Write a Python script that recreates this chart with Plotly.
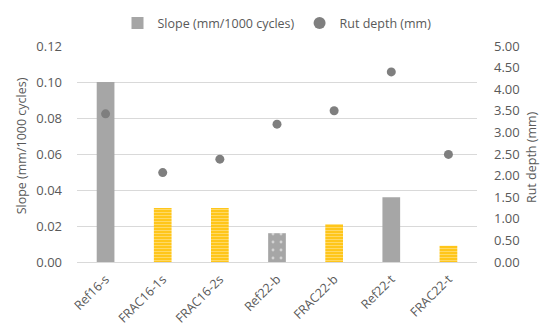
import plotly.graph_objects as go

categories = ["Ref16-s", "FRAC16-1s", "FRAC16-2s", "Ref22-b", "FRAC22-b", "Ref22-t", "FRAC22-t"]
slope = [0.100, 0.030, 0.030, 0.016, 0.021, 0.036, 0.009]
rut_depth = [3.43, 2.07, 2.38, 3.19, 3.50, 4.40, 2.49]
bar_style = ["solid", "stripe", "stripe", "dots", "stripe", "solid", "stripe"]
left_ticks = [0.00, 0.02, 0.04, 0.06, 0.08, 0.10, 0.12]
right_ticks = [0.0, 0.5, 1.0, 1.5, 2.0, 2.5, 3.0, 3.5, 4.0, 4.5, 5.0]

FONT = "Open Sans"
TXT = "#595959"
GRID = "#D9D9D9"

styles = {
    "solid": dict(color="#A6A6A6", pattern=dict(shape="")),
    "dots": dict(color="#A6A6A6", pattern=dict(shape=".", fgcolor="#FFFFFF", size=8,
                                                solidity=0.1, fillmode="overlay")),
    "stripe": dict(color="#FFC000", pattern=dict(shape="-", fgcolor="#FFF2CC", size=3,
                                                  solidity=0.5, fillmode="overlay")),
}

fig = go.Figure()
for i, key in enumerate(["solid", "stripe", "dots"]):
    xs = [c for c, s in zip(categories, bar_style) if s == key]
    ys = [v for v, s in zip(slope, bar_style) if s == key]
    st = styles[key]
    fig.add_trace(go.Bar(
        x=xs, y=ys, name="Slope (mm/1000 cycles)", legendgroup="slope",
        showlegend=(i == 0),
        marker=dict(color=st["color"], line=dict(width=0), pattern=st["pattern"]),
        yaxis="y",
    ))
fig.add_trace(go.Scatter(
    x=categories, y=rut_depth, name="Rut depth (mm)", mode="markers",
    marker=dict(color="#7F7F7F", size=9),
    yaxis="y2",
))

fig.update_layout(
    width=544, height=331,
    margin=dict(l=77, r=67, t=46, b=69, autoexpand=False),
    paper_bgcolor="white", plot_bgcolor="white",
    font=dict(family=FONT, size=12, color=TXT),
    barmode="overlay",
    bargap=0.69,
    showlegend=True,
    legend=dict(orientation="h", x=0.5, xanchor="center", y=1.035, yanchor="bottom",
                font=dict(size=12.5, color=TXT), itemsizing="constant",
                traceorder="normal", itemwidth=30),
    xaxis=dict(tickangle=-45, showgrid=False, showline=True, linecolor=GRID,
               categoryorder="array", categoryarray=categories,
               ticks="", tickfont=dict(size=12.5, color=TXT), ticklabelstandoff=4),
    yaxis=dict(range=[0, 0.12], tickvals=left_ticks, tickformat=".2f",
               showgrid=True, gridcolor=GRID, zeroline=False, ticks="",
               ticklabelstandoff=14,
               tickfont=dict(size=13, color=TXT)),
    yaxis2=dict(range=[0, 5], tickvals=right_ticks, tickformat=".2f", overlaying="y",
                side="right", showgrid=False, zeroline=False, ticks="",
                ticklabelstandoff=16,
                tickfont=dict(size=13, color=TXT)),
    annotations=[
        dict(text="Slope (mm/1000 cycles)", textangle=-90, xref="paper", yref="paper",
             x=-0.14, y=0.54, xanchor="center", yanchor="middle", showarrow=False,
             font=dict(size=12.5, color=TXT)),
        dict(text="Rut depth (mm)", textangle=-90, xref="paper", yref="paper",
             x=1.138, y=0.487, xanchor="center", yanchor="middle", showarrow=False,
             font=dict(size=12.5, color=TXT)),
    ],
)

fig.write_html("out.html")
